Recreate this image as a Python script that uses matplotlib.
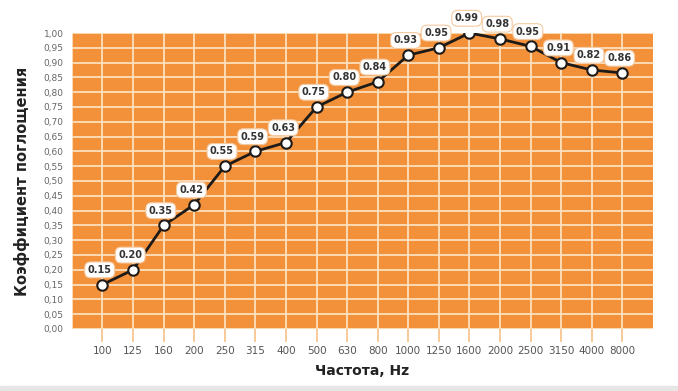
import matplotlib.pyplot as plt
import numpy as np

freqs = ['100', '125', '160', '200', '250', '315', '400', '500', '630', '800',
         '1000', '1250', '1600', '2000', '2500', '3150', '4000', '8000']
values = [0.15, 0.20, 0.35, 0.42, 0.55, 0.60, 0.63, 0.75, 0.80, 0.835,
          0.925, 0.95, 1.00, 0.98, 0.955, 0.90, 0.875, 0.865]
labels = ['0.15', '0.20', '0.35', '0.42', '0.55', '0.59', '0.63', '0.75', '0.80', '0.84',
          '0.93', '0.95', '0.99', '0.98', '0.95', '0.91', '0.82', '0.86']
yticks = np.arange(0, 1.0001, 0.05)

orange = '#F3913A'
grid_c = '#FDE0BE'

fig = plt.figure(figsize=(6.78, 3.91), dpi=100)
ax = fig.add_axes([0.106, 0.1586, 0.857, 0.757])
ax.set_facecolor(orange)

x = np.arange(len(freqs))
ax.set_xlim(-1, len(freqs))
ax.set_ylim(0, 1.0)
ax.set_xticks(x)
ax.set_xticklabels(freqs)
ax.set_yticks(yticks)
ax.set_yticklabels([f'{v:.2f}'.replace('.', ',') for v in yticks])
ax.grid(True, color=grid_c, linewidth=1.3)
ax.set_axisbelow(True)
for s in ax.spines.values():
    s.set_visible(False)
ax.axvline(-1, color=grid_c, linewidth=1.3, zorder=0.5)

ax.tick_params(axis='x', length=9, width=1.3, color='#F8C58E', labelsize=7.5,
               labelcolor='#555555', pad=3)
ax.tick_params(axis='y', length=0, labelsize=6.5, labelcolor='#666666', pad=6)

ax.plot(x, values, color='#1e1a17', linewidth=2, marker='o', markersize=7.5,
        markerfacecolor='white', markeredgecolor='#1e1a17', markeredgewidth=1.5,
        zorder=3)

for xi, v, t in zip(x, values, labels):
    ax.annotate(t, (xi, v), xytext=(-2, 7), textcoords='offset points',
                ha='center', va='bottom', fontsize=7, fontweight='bold',
                color='#333333', zorder=4, annotation_clip=False,
                bbox=dict(boxstyle='round,pad=0.3,rounding_size=0.6',
                          facecolor='white', edgecolor='#F5C9A0', linewidth=0.8))

ax.set_xlabel('Частота, Hz', fontsize=10, fontweight='bold', color='#222222', labelpad=6)
ax.set_ylabel('Коэффициент поглощения', fontsize=10.5, fontweight='bold',
              color='#222222', labelpad=10)

fig.patches.append(plt.Rectangle((0, 0), 1, 0.012, transform=fig.transFigure,
                                 color='#e6e6e6', zorder=0))

fig.savefig('out.png', dpi=100)
